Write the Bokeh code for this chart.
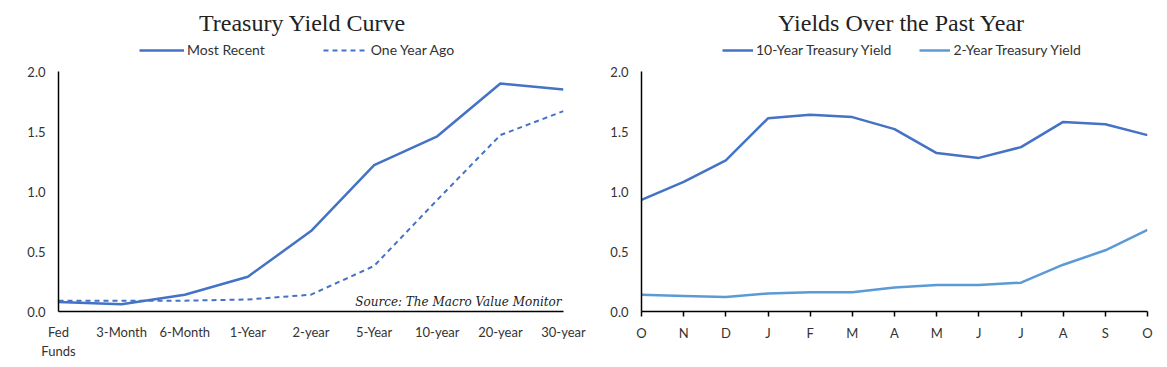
from bokeh.plotting import figure
from bokeh.models import (FixedTicker, NumeralTickFormatter, Legend, LegendItem, Label, Range1d)
from bokeh.layouts import row, column
from bokeh.embed import file_html
from bokeh.resources import INLINE

# ---------------- data ----------------
maturities = ["Fed\nFunds", "3-Month", "6-Month", "1-Year", "2-year", "5-Year", "10-year", "20-year", "30-year"]
most_recent = [0.08, 0.06, 0.14, 0.29, 0.67, 1.22, 1.46, 1.90, 1.85]
one_year_ago = [0.09, 0.09, 0.09, 0.10, 0.14, 0.38, 0.93, 1.47, 1.67]

months = ["O", "N", "D", "J", "F", "M", "A", "M", "J", "J", "A", "S", "O"]
ten_year = [0.93, 1.08, 1.26, 1.61, 1.64, 1.62, 1.52, 1.32, 1.28, 1.37, 1.58, 1.56, 1.47]
two_year = [0.14, 0.13, 0.12, 0.15, 0.16, 0.16, 0.20, 0.22, 0.22, 0.24, 0.39, 0.51, 0.68]

y_ticks = [0.0, 0.5, 1.0, 1.5, 2.0]

BLUE = "#4472C4"
LIGHT = "#5B9BD5"
LABEL_FONT = "Lato"
TITLE_FONT = "Liberation Serif"
HEAD_H = 63
H = 367 - HEAD_H
TOP = 8
BOTTOM = 56
DASH = "5 4"


def style(p, ticks_x, labels_x, tick_marks):
    p.xgrid.visible = False
    p.ygrid.visible = False
    p.outline_line_color = None
    p.xaxis.ticker = FixedTicker(ticks=ticks_x)
    p.xaxis.major_label_overrides = {i: l for i, l in zip(ticks_x, labels_x)}
    p.yaxis.ticker = FixedTicker(ticks=y_ticks)
    p.yaxis.formatter = NumeralTickFormatter(format="0.0")
    for ax in (p.xaxis[0], p.yaxis[0]):
        ax.axis_line_color = "black"
        ax.axis_line_width = 1.5
        ax.minor_tick_line_color = None
        ax.minor_tick_out = 0
        ax.minor_tick_in = 0
        ax.major_label_text_font = LABEL_FONT
        ax.major_label_text_color = "#333333"
        ax.major_label_text_font_size = "13px"
    p.yaxis.major_tick_line_color = None
    p.yaxis.major_tick_out = 0
    p.yaxis.major_tick_in = 0
    p.yaxis.major_label_standoff = 13
    if tick_marks:
        p.xaxis.major_tick_line_color = "black"
        p.xaxis.major_tick_line_width = 1.5
        p.xaxis.major_tick_in = 0
        p.xaxis.major_tick_out = 5
        p.xaxis.major_label_standoff = 8
    else:
        p.xaxis.major_tick_line_color = None
        p.xaxis.major_tick_in = 0
        p.xaxis.major_tick_out = 0
        p.xaxis.major_label_standoff = 12


def header(width, title, title_cx, items, legend_x, glyph_w, spacing):
    # frame of the header is aligned with the chart frame below it (column alignment)
    h = figure(width=width, height=HEAD_H, output_backend="svg", toolbar_location=None,
               x_range=Range1d(0, 1), y_range=Range1d(0, 1),
               min_border=0, min_border_left=0, min_border_right=0,
               min_border_top=0, min_border_bottom=0)
    h.axis.visible = False
    h.grid.visible = False
    h.outline_line_color = None
    h.add_layout(Label(x=title_cx, y=HEAD_H - 22, x_units="screen", y_units="screen",
                       text=title, text_align="center", text_baseline="middle",
                       text_font=TITLE_FONT, text_font_size="24px", text_color="#222222"))
    leg_items = []
    for label, color, width_, dash in items:
        # legend sample glyph only; kept outside the visible range
        r = h.line([-2, -1], [-2, -2], line_color=color, line_width=width_, line_dash=dash)
        leg_items.append(LegendItem(label=label, renderers=[r]))
    leg = Legend(items=leg_items, orientation="horizontal", location=(legend_x, 5),
                 label_text_font=LABEL_FONT, label_text_font_size="14px", label_text_color="#333333",
                 glyph_width=glyph_w, spacing=spacing, padding=0, margin=0, border_line_color=None,
                 background_fill_alpha=0, label_standoff=3, label_height=16, glyph_height=16)
    h.add_layout(leg, "center")
    return h


# ---------------- left chart ----------------
W1, FL1, FW1 = 591, 58, 505
xs1 = list(range(len(maturities)))
p1 = figure(width=W1, height=H, output_backend="svg", toolbar_location=None,
            x_range=Range1d(0, len(maturities) - 1), y_range=Range1d(0, 2.0),
            min_border_left=FL1, min_border_right=W1 - FL1 - FW1,
            min_border_bottom=BOTTOM, min_border_top=TOP)
p1.line(xs1, most_recent, line_color=BLUE, line_width=2.5)
p1.line(xs1, one_year_ago, line_color=BLUE, line_width=2, line_dash=DASH)
style(p1, xs1, maturities, False)
p1.add_layout(Label(x=len(maturities) - 1, y=0.02, text="Source: The Macro Value Monitor",
                    text_align="right", text_baseline="bottom", text_font="DejaVu Serif",
                    text_font_style="italic", text_font_size="12px", text_color="#222222",
                    x_offset=-2))
h1 = header(W1, "Treasury Yield Curve", 302 - FL1,
            [("Most Recent", BLUE, 2.5, "solid"), ("One Year Ago", BLUE, 2, DASH)],
            139 - FL1, 45, 58)

# ---------------- right chart ----------------
W2, FL2, FW2 = 576, 50, 506
xs2 = list(range(len(months)))
p2 = figure(width=W2, height=H, output_backend="svg", toolbar_location=None,
            x_range=Range1d(0, len(months) - 1), y_range=Range1d(0, 2.0),
            min_border_left=FL2, min_border_right=W2 - FL2 - FW2,
            min_border_bottom=BOTTOM, min_border_top=TOP)
p2.line(xs2, ten_year, line_color=BLUE, line_width=2.5)
p2.line(xs2, two_year, line_color=LIGHT, line_width=2.5)
style(p2, xs2, months, True)
h2 = header(W2, "Yields Over the Past Year", 901 - 591 - FL2,
            [("10-Year Treasury Yield", BLUE, 2.5, "solid"), ("2-Year Treasury Yield", LIGHT, 2.5, "solid")],
            722 - 591 - FL2, 31, 28)

layout = row(column(h1, p1), column(h2, p2))
open("out.html", "w").write(file_html(layout, INLINE))
